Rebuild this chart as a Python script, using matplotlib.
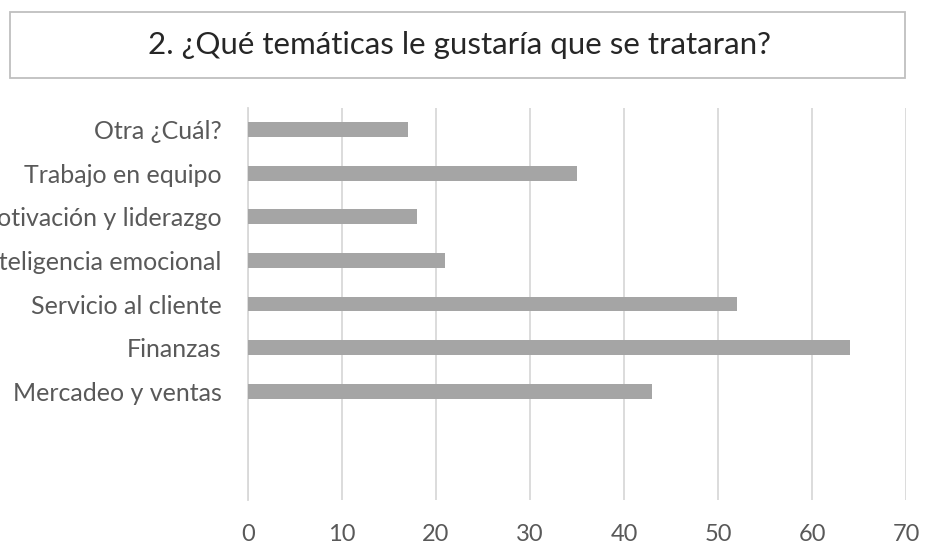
import matplotlib
matplotlib.use("Agg")
import matplotlib.pyplot as plt
from matplotlib.patches import Rectangle
import numpy as np

# Survey answers, listed from top to bottom
categories = [
    "Otra ¿Cuál?",
    "Trabajo en equipo",
    "Motivación y liderazgo",
    "Inteligencia emocional",
    "Servicio al cliente",
    "Finanzas",
    "Mercadeo y ventas",
]
values = [17, 35, 18, 21, 52, 64, 43]
x_ticks = [0, 10, 20, 30, 40, 50, 60, 70]
title = "2. ¿Qué temáticas le gustaría que se trataran?"

plt.rcParams["font.family"] = ["Lato", "DejaVu Sans"]

fig = plt.figure(figsize=(9.25, 5.44), dpi=100)
ax = fig.add_axes([248 / 925, 1 - 500 / 544, (906 - 248) / 925, (500 - 108) / 544])

n_slots = 9
ypos = n_slots - 1 - np.arange(len(categories))
ax.barh(ypos, values, height=0.34, color="#a5a5a5", zorder=3)

ax.set_xlim(0, 70)
ax.set_ylim(-0.5, n_slots - 0.5)
ax.set_xticks(x_ticks)
ax.set_xticklabels([str(t) for t in x_ticks])
ax.set_yticks(ypos)
ax.set_yticklabels(categories)

ax.grid(axis="x", color="#d9d9d9", linewidth=1.3, zorder=0)
for s in ["top", "right", "bottom"]:
    ax.spines[s].set_visible(False)
ax.spines["left"].set_color("#d9d9d9")
ax.spines["left"].set_linewidth(1.3)
ax.tick_params(axis="both", length=0, labelcolor="#595959")
ax.tick_params(axis="x", pad=17, labelsize=17)
ax.tick_params(axis="y", pad=19, labelsize=18)

# Title inside a framed box
fig.patches.append(Rectangle((10 / 925, 1 - 78 / 544), (905 - 10) / 925, (78 - 12) / 544,
                             transform=fig.transFigure, facecolor="white",
                             edgecolor="#bfbfbf", linewidth=1.3))
fig.text(460 / 925, 1 - 45 / 544, title, ha="center", va="center",
         fontsize=22.5, color="#262626")

fig.savefig("out.png", dpi=100, facecolor="white")
